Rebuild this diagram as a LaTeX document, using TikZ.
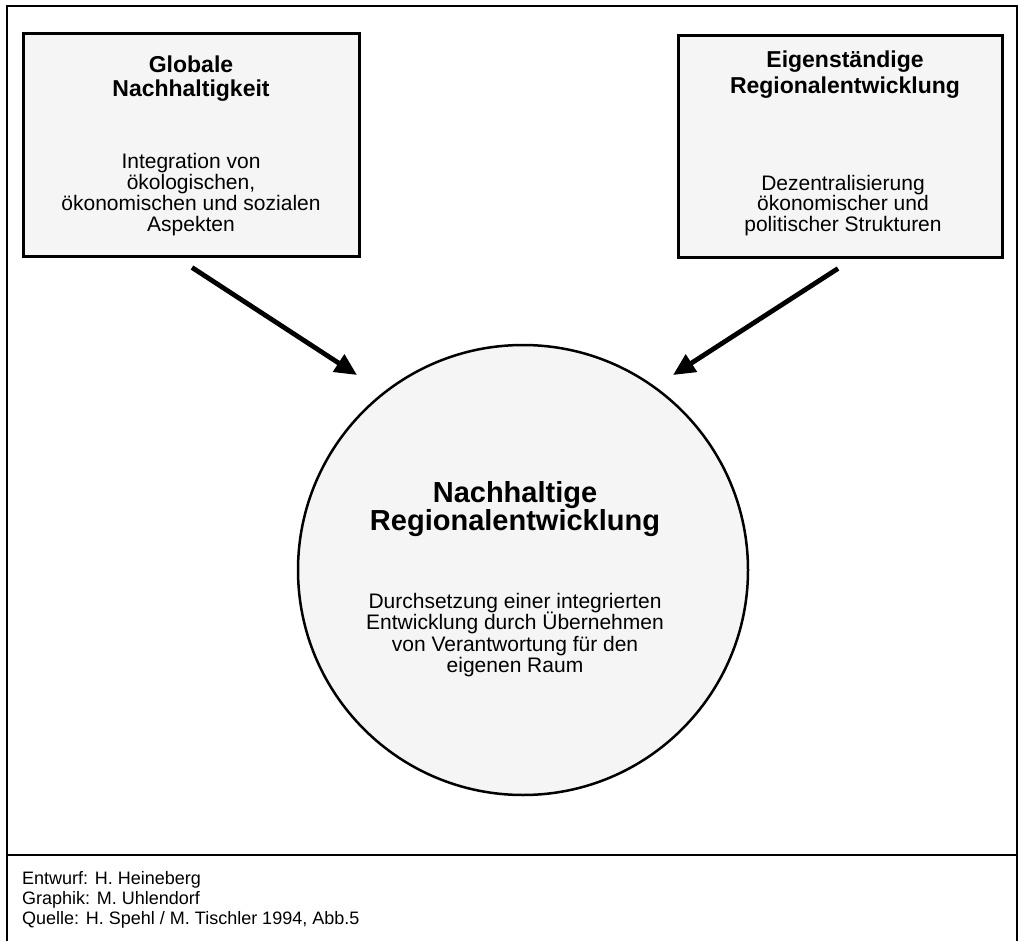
\documentclass[tikz,border=0pt]{standalone}
\usepackage{fontspec}
\setmainfont{Liberation Sans}
\usetikzlibrary{arrows.meta}
\begin{document}
\lineskiplimit=-20pt
\begin{tikzpicture}[x=1pt,y=-1pt,
  box/.style={draw, line width=3pt, fill=black!4, inner sep=0pt},
  titletext/.style={font={\bfseries\fontsize{23}{24.5}\selectfont}, align=center, inner sep=0pt, anchor=north},
  bodytext/.style={font={\fontsize{21}{20.8}\selectfont}, align=center, inner sep=0pt, anchor=north},
  arr/.style={line width=4.8pt, -{Triangle[length=22pt,width=20pt]}}
]
\useasboundingbox (0,0) rectangle (1019,941);
\fill[white] (0,0) rectangle (1019,941);
% outer frame and footer separator
\draw[line width=1.8pt] (7,945) -- (7,6) -- (1017,6) -- (1017,945);
\draw[line width=2pt] (7,855) -- (1017,855);

% boxes and circle
\node[box, minimum width=336pt, minimum height=222pt] (lbox) at (191,145) {};
\node[box, minimum width=324pt, minimum height=221pt] (rbox) at (840,146.5) {};
\node[draw, circle, line width=2.5pt, fill=black!4, minimum size=450pt, inner sep=0pt] (circ) at (523,570) {};

% texts
\node[titletext] (ltitle) at (191,55.4) {Globale\\Nachhaltigkeit};
\node[bodytext] (lbody) at (191,153.5) {Integration von\\ökologischen,\\ökonomischen und sozialen\\Aspekten};
\node[titletext, font={\bfseries\fontsize{23}{26}\selectfont}] (rtitle) at (845,50.5) {Eigenständige\\Regionalentwicklung};
\node[bodytext, font={\fontsize{21}{20.3}\selectfont}] (rbody) at (843,175) {Dezentralisierung\\ökonomischer und\\politischer Strukturen};
\node[titletext, font={\bfseries\fontsize{29}{28.5}\selectfont}] (ctitle) at (515,481) {Nachhaltige\\Regionalentwicklung};
\node[bodytext, font={\fontsize{21}{21.3}\selectfont}] (cbody) at (515,593) {Durchsetzung einer integrierten\\Entwicklung durch Übernehmen\\von Verantwortung für den\\eigenen Raum};
\node[anchor=north west, inner sep=0pt, align=left, font={\fontsize{18}{20}\selectfont}] (foot) at (22,871) {Entwurf: H. Heineberg\\Graphik: M. Uhlendorf\\Quelle: H. Spehl / M. Tischler 1994, Abb.5};

% arrows
\coordinate (a1s) at ([xshift=1pt,yshift=-10pt]lbox.south);
\coordinate (a1e) at (357,375);
\coordinate (a2s) at ([xshift=-2pt,yshift=-10pt]rbox.south);
\coordinate (a2e) at (673,375);
\draw[arr] (a1s) -- (a1e);
\draw[arr] (a2s) -- (a2e);
\end{tikzpicture}
\end{document}
